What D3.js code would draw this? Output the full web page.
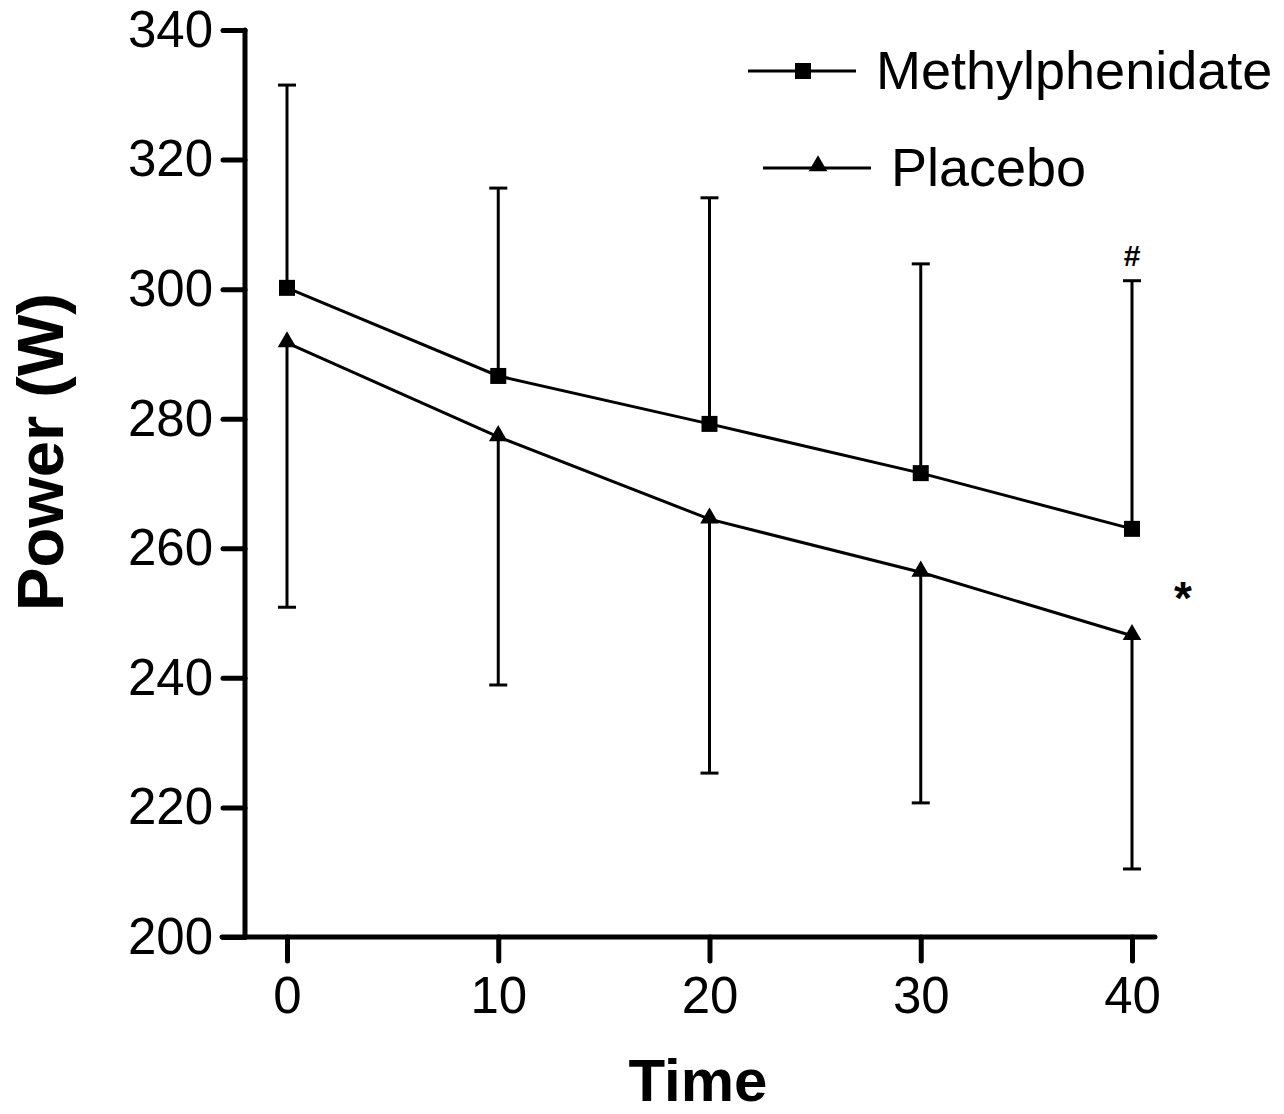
<!DOCTYPE html>
<html>
<head>
	<meta charset="UTF-8">
	<script src="https://d3js.org/d3.v7.min.js"></script>
	<style>
		body { margin: 0; background: #fff; }
		text { font-family: "Liberation Sans", Arial, sans-serif; fill: #000; }
	</style>
</head>
<body>
	<svg width="1284" height="1114"></svg>
	<script>
		// data
		var times = [0, 10, 20, 30, 40];
		var methMean = [300.2, 286.6, 279.2, 271.6, 263.0];
		var methSD = [31.3, 29.0, 34.9, 32.3, 38.3];
		var placMean = [291.7, 277.2, 264.5, 256.3, 246.5];
		var placSD = [40.8, 38.3, 39.2, 35.6, 36.0];
		var yTicks = [200, 220, 240, 260, 280, 300, 320, 340];
		var xTicks = [0, 10, 20, 30, 40];

		var svg = d3.select("svg");

		var x = d3.scaleLinear().domain([0, 40]).range([287, 1132]);
		var y = d3.scaleLinear().domain([200, 340]).range([937, 30]);

		// axes
		var yAxis = svg.append("g")
			.attr("transform", "translate(245,0)")
			.call(d3.axisLeft(y).tickValues(yTicks).tickSize(22).tickPadding(10).tickSizeOuter(0));
		var xAxis = svg.append("g")
			.attr("transform", "translate(0,937)")
			.call(d3.axisBottom(x).tickValues(xTicks).tickSize(24).tickPadding(16).tickSizeOuter(0));

		[yAxis, xAxis].forEach(function (a) {
			a.selectAll("path, line").attr("stroke", "#000").attr("stroke-width", 5).attr("stroke-linecap", "round");
			a.selectAll("text").style("font-size", "51px").style("font-family", "Liberation Sans, Arial, sans-serif");
		});
		// axis lines stretched like the original
		yAxis.select(".domain").attr("d", "M0,30V937");
		xAxis.select(".domain").attr("d", "M222,0H1155");

		// error bars
		function errBars(mean, sd, dir) {
			var g = svg.append("g").attr("stroke", "#000").attr("stroke-width", 3);
			times.forEach(function (t, i) {
				var end = mean[i] + dir * sd[i];
				g.append("line").attr("x1", x(t)).attr("x2", x(t)).attr("y1", y(mean[i])).attr("y2", y(end));
				g.append("line").attr("x1", x(t) - 9).attr("x2", x(t) + 9).attr("y1", y(end)).attr("y2", y(end));
			});
		}
		errBars(methMean, methSD, 1);
		errBars(placMean, placSD, -1);

		var line = d3.line().x((d, i) => x(times[i])).y(d => y(d));

		svg.append("path").datum(methMean).attr("d", line)
			.attr("fill", "none").attr("stroke", "#000").attr("stroke-width", 3);
		svg.append("path").datum(placMean).attr("d", line)
			.attr("fill", "none").attr("stroke", "#000").attr("stroke-width", 3);

		var sq = d3.symbol().type(d3.symbolSquare).size(256);
		var tri = d3.symbol().type(d3.symbolTriangle).size(150);

		svg.selectAll(".msq").data(methMean).enter().append("path")
			.attr("d", sq).attr("transform", (d, i) => "translate(" + x(times[i]) + "," + y(d) + ")");
		svg.selectAll(".ptri").data(placMean).enter().append("path")
			.attr("d", tri).attr("transform", (d, i) => "translate(" + x(times[i]) + "," + (y(d) - 1) + ")");

		// significance marks
		svg.append("text").attr("x", x(40)).attr("y", 266).attr("text-anchor", "middle")
			.style("font-size", "30px").style("font-weight", "bold").text("#");
		svg.append("text").attr("x", 1183).attr("y", 614).attr("text-anchor", "middle")
			.style("font-size", "46px").style("font-weight", "bold").text("*");

		// legend
		var leg = svg.append("g");
		leg.append("line").attr("x1", 748).attr("x2", 856).attr("y1", 71).attr("y2", 71)
			.attr("stroke", "#000").attr("stroke-width", 3);
		leg.append("path").attr("d", sq).attr("transform", "translate(803,71)");
		leg.append("text").attr("x", 876).attr("y", 89).style("font-size", "54px").text("Methylphenidate");
		leg.append("line").attr("x1", 763).attr("x2", 871).attr("y1", 168).attr("y2", 168)
			.attr("stroke", "#000").attr("stroke-width", 3);
		leg.append("path").attr("d", tri).attr("transform", "translate(818,166)");
		leg.append("text").attr("x", 891).attr("y", 186).style("font-size", "54px").text("Placebo");

		// axis titles
		svg.append("text").attr("x", 698).attr("y", 1101).attr("text-anchor", "middle")
			.style("font-size", "60px").style("font-weight", "bold").text("Time");
		svg.append("text").attr("transform", "translate(63,452) rotate(-90)").attr("text-anchor", "middle")
			.style("font-size", "65px").style("font-weight", "bold").text("Power (W)");
	</script>
</body>
</html>
